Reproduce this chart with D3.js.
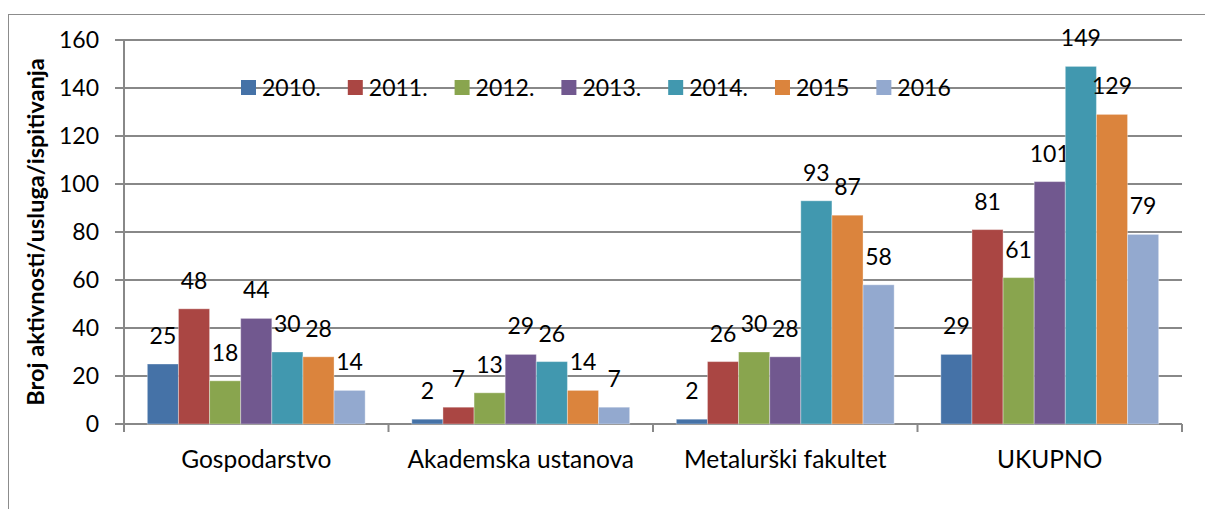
<!DOCTYPE html>
<html>
<head>
<meta charset="utf-8">
<script src="https://cdn.jsdelivr.net/npm/d3@7"></script>
<style>
  body { margin: 0; background: #fff; }
  svg text { font-family: Lato, "Open Sans", sans-serif; fill: #000; }
</style>
</head>
<body>
<div id="chart"></div>
<script>
// categories and yearly series
var categories = ["Gospodarstvo", "Akademska ustanova", "Metalurški fakultet", "UKUPNO"];
var years = ["2010.", "2011.", "2012.", "2013.", "2014.", "2015", "2016"];
var v2010 = [25, 2, 2, 29];
var v2011 = [48, 7, 26, 81];
var v2012 = [18, 13, 30, 61];
var v2013 = [44, 29, 28, 101];
var v2014 = [30, 26, 93, 149];
var v2015 = [28, 14, 87, 129];
var v2016 = [14, 7, 58, 79];
var yTicks = [0, 20, 40, 60, 80, 100, 120, 140, 160];
var yTitle = "Broj aktivnosti/usluga/ispitivanja";

var seriesValues = [v2010, v2011, v2012, v2013, v2014, v2015, v2016];
var colors = ["#4572A7", "#AA4643", "#89A54E", "#71588F", "#4198AF", "#DB843D", "#93A9CF"];

var svgWidth = 1205, svgHeight = 509;
var margin = { top: 40, right: 23, bottom: 85, left: 124 };
var width = svgWidth - margin.left - margin.right;
var height = svgHeight - margin.top - margin.bottom;

var svg = d3.select("#chart").append("svg")
  .attr("width", svgWidth)
  .attr("height", svgHeight);

// outer chart frame (clipped at right/bottom like the original)
svg.append("rect")
  .attr("x", 8.5).attr("y", 14.5)
  .attr("width", 1210).attr("height", 520)
  .attr("fill", "none")
  .attr("stroke", "#8c8c8c")
  .attr("stroke-width", 1);

var chartGroup = svg.append("g")
  .attr("transform", `translate(${margin.left}, ${margin.top})`);

var x0 = d3.scaleBand().domain(categories).range([0, width]);
var x1 = d3.scaleBand().domain(years).range([0, x0.bandwidth()]).paddingOuter(0.75);
var y = d3.scaleLinear().domain([0, 160]).range([height, 0]);

// gridlines
chartGroup.selectAll(".grid")
  .data(yTicks)
  .enter()
  .append("line")
  .attr("x1", -9)
  .attr("x2", width)
  .attr("y1", d => y(d))
  .attr("y2", d => y(d))
  .attr("stroke", "#888")
  .attr("stroke-width", 2);

// y axis
var leftAxis = d3.axisLeft(y).tickValues(yTicks).tickSize(0).tickPadding(25);
var yAxis = chartGroup.append("g").call(leftAxis);
yAxis.select(".domain").remove();
yAxis.selectAll("text").attr("font-size", "23px").style("font-family", "Lato, sans-serif");

chartGroup.append("line")
  .attr("x1", 0).attr("x2", 0)
  .attr("y1", 0).attr("y2", height + 8)
  .attr("stroke", "#888").attr("stroke-width", 2);

// x axis
var bottomAxis = d3.axisBottom(x0).tickSize(0).tickPadding(27);
var xAxis = chartGroup.append("g")
  .attr("transform", `translate(0, ${height})`)
  .call(bottomAxis);
xAxis.select(".domain").remove();
xAxis.selectAll("text").attr("font-size", "24.5px").style("font-family", "Lato, sans-serif");

chartGroup.append("line")
  .attr("x1", 0).attr("x2", width)
  .attr("y1", height).attr("y2", height)
  .attr("stroke", "#888").attr("stroke-width", 2);

chartGroup.selectAll(".cattick")
  .data(categories)
  .enter()
  .append("line")
  .attr("x1", d => x0(d) + x0.bandwidth())
  .attr("x2", d => x0(d) + x0.bandwidth())
  .attr("y1", height)
  .attr("y2", height + 8)
  .attr("stroke", "#888").attr("stroke-width", 2);

// bars
var groups = chartGroup.selectAll(".cat")
  .data(categories)
  .enter()
  .append("g")
  .attr("transform", d => `translate(${x0(d)}, 0)`);

groups.each(function(cat, ci) {
  var g = d3.select(this);
  years.forEach(function(yr, si) {
    var val = seriesValues[si][ci];
    g.append("rect")
      .attr("x", x1(yr))
      .attr("y", y(val))
      .attr("width", x1.bandwidth())
      .attr("height", y(0) - y(val))
      .attr("fill", colors[si])
      .attr("stroke", "rgba(255,255,255,0.35)")
      .attr("stroke-width", 1);
    g.append("text")
      .attr("x", x1(yr) + x1.bandwidth() / 2)
      .attr("y", y(val) - 20)
      .attr("text-anchor", "middle")
      .attr("font-size", "23px")
      .text(val);
  });
});

// legend
var legend = chartGroup.append("g").attr("transform", `translate(${241 - margin.left}, ${80 - margin.top})`);
var lx = 0;
years.forEach(function(yr, i) {
  var item = legend.append("g").attr("transform", `translate(${lx}, 0)`);
  item.append("rect")
    .attr("width", 15).attr("height", 15)
    .attr("fill", colors[i]);
  var t = item.append("text")
    .attr("x", 21)
    .attr("y", 16)
    .attr("font-size", "23px")
    .text(yr);
  lx += 21 + t.node().getComputedTextLength() + 27;
});

// y axis title
svg.append("text")
  .attr("transform", `translate(44, ${(margin.top + margin.top + height) / 2}) rotate(-90)`)
  .attr("text-anchor", "middle")
  .attr("font-size", "23.5px")
  .attr("font-weight", "bold")
  .text(yTitle);
</script>
</body>
</html>
